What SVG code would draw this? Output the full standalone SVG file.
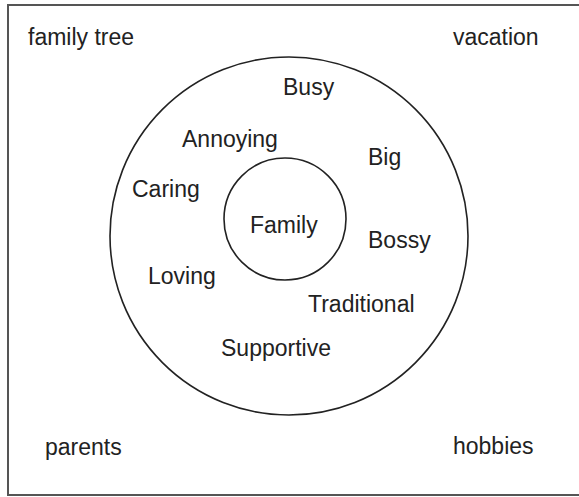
<svg xmlns="http://www.w3.org/2000/svg" width="579" height="497" viewBox="0 0 579 497">
  <style>
    .t { font-family: "Liberation Sans", Arial, sans-serif; font-size: 23px; fill: #222; }
    .c { fill: none; stroke: #222; stroke-width: 1.6; }
  </style>
  <rect x="0" y="0" width="579" height="497" fill="#fff"/>
  <rect x="8" y="5" width="572" height="490" fill="none" stroke="#555" stroke-width="2"/>
  <g id="corners">
    <text class="t" x="28" y="45">family tree</text>
    <text class="t" x="453" y="45">vacation</text>
    <text class="t" x="45" y="455">parents</text>
    <text class="t" x="453" y="454">hobbies</text>
  </g>
  <g id="outer-circle">
    <circle class="c" cx="289" cy="236" r="179"/>
    <text class="t" x="283" y="95">Busy</text>
    <text class="t" x="182" y="147">Annoying</text>
    <text class="t" x="132" y="197">Caring</text>
    <text class="t" x="368" y="165">Big</text>
    <text class="t" x="368" y="248">Bossy</text>
    <text class="t" x="148" y="284">Loving</text>
    <text class="t" x="308" y="312">Traditional</text>
    <text class="t" x="221" y="356">Supportive</text>
  </g>
  <g id="family">
    <circle class="c" cx="285" cy="219" r="61"/>
    <text class="t" x="250" y="233">Family</text>
  </g>
  <g id="connectors"></g>
</svg>
